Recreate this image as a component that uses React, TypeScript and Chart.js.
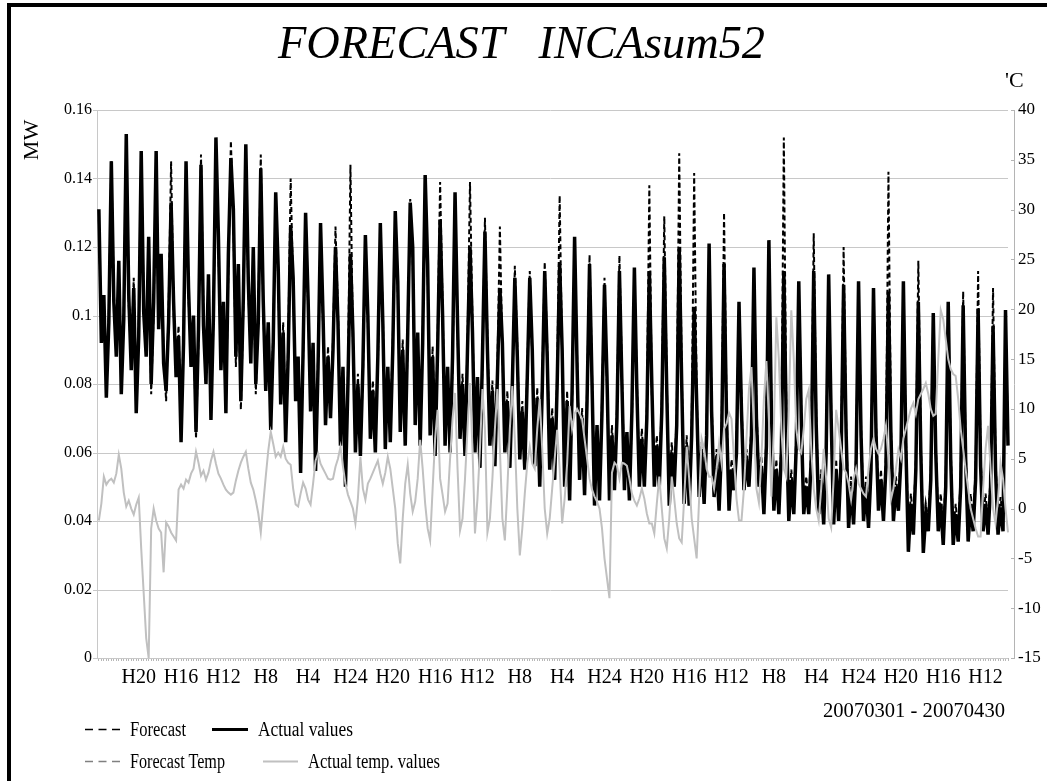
import React, { useEffect, useRef } from "react";
import { Chart, registerables } from "chart.js";

Chart.register(...registerables);

// ---- data (4-hour steps, 2007-03-01 .. 2007-04-30, 6 values per day: H4,H8,H12,H16,H20,H24) ----
const STEP_HOURS = 4;
const TOTAL_HOURS = 1464;
const LABEL_EVERY_HOURS = 68;

const xTickLabels = [
  "H20", "H16", "H12", "H8", "H4", "H24", "H20", "H16", "H12", "H8", "H4",
  "H24", "H20", "H16", "H12", "H8", "H4", "H24", "H20", "H16", "H12",
];

const actualLoad = [
  0.131, 0.092, 0.106, 0.076, 0.098, 0.145,
  0.104, 0.088, 0.116, 0.077, 0.099, 0.153,
  0.106, 0.084, 0.108, 0.0715, 0.094, 0.148,
  0.101, 0.088, 0.123, 0.08, 0.104, 0.148,
  0.096, 0.118, 0.086, 0.078, 0.098, 0.133,
  0.104, 0.082, 0.094, 0.063, 0.092, 0.145,
  0.108, 0.085, 0.1, 0.066, 0.096, 0.144,
  0.097, 0.08, 0.112, 0.0695, 0.1, 0.152,
  0.123, 0.084, 0.104, 0.0715, 0.118, 0.146,
  0.131, 0.088, 0.115, 0.075, 0.105, 0.15,
  0.11, 0.086, 0.12, 0.08, 0.098, 0.143,
  0.104, 0.078, 0.098, 0.0666, 0.092, 0.136,
  0.114, 0.074, 0.095, 0.063, 0.088, 0.126,
  0.111, 0.075, 0.088, 0.054, 0.09, 0.13,
  0.105, 0.072, 0.092, 0.0546, 0.085, 0.127,
  0.1, 0.068, 0.088, 0.07, 0.09, 0.12,
  0.098, 0.062, 0.085, 0.05, 0.08, 0.118,
  0.095, 0.06, 0.08, 0.059, 0.085, 0.1235,
  0.1, 0.064, 0.078, 0.06, 0.088, 0.127,
  0.098, 0.061, 0.085, 0.063, 0.09, 0.1305,
  0.11, 0.066, 0.09, 0.062, 0.095, 0.133,
  0.12, 0.068, 0.095, 0.062, 0.092, 0.141,
  0.115, 0.065, 0.088, 0.059, 0.09, 0.128,
  0.1, 0.062, 0.085, 0.06, 0.088, 0.136,
  0.098, 0.064, 0.08, 0.059, 0.09, 0.12,
  0.095, 0.06, 0.082, 0.0555, 0.088, 0.1245,
  0.09, 0.062, 0.078, 0.056, 0.082, 0.108,
  0.092, 0.06, 0.075, 0.0555, 0.08, 0.111,
  0.088, 0.058, 0.072, 0.055, 0.082, 0.111,
  0.09, 0.056, 0.076, 0.05, 0.078, 0.113,
  0.088, 0.055, 0.07, 0.052, 0.08, 0.115,
  0.09, 0.05, 0.075, 0.046, 0.078, 0.123,
  0.085, 0.052, 0.07, 0.0475, 0.075, 0.115,
  0.08, 0.0445, 0.068, 0.046, 0.072, 0.109,
  0.082, 0.046, 0.065, 0.049, 0.07, 0.113,
  0.08, 0.049, 0.066, 0.046, 0.072, 0.114,
  0.078, 0.05, 0.064, 0.05, 0.07, 0.113,
  0.08, 0.05, 0.062, 0.05, 0.072, 0.117,
  0.078, 0.0445, 0.06, 0.05, 0.068, 0.1194,
  0.08, 0.045, 0.062, 0.0445, 0.065, 0.1025,
  0.075, 0.047, 0.06, 0.045, 0.065, 0.121,
  0.072, 0.047, 0.058, 0.043, 0.062, 0.115,
  0.07, 0.043, 0.055, 0.049, 0.06, 0.104,
  0.072, 0.049, 0.058, 0.05, 0.065, 0.114,
  0.07, 0.05, 0.056, 0.042, 0.062, 0.122,
  0.072, 0.043, 0.055, 0.042, 0.06, 0.113,
  0.068, 0.04, 0.052, 0.042, 0.062, 0.11,
  0.07, 0.042, 0.05, 0.042, 0.058, 0.113,
  0.068, 0.042, 0.052, 0.039, 0.06, 0.112,
  0.07, 0.039, 0.055, 0.04, 0.058, 0.109,
  0.066, 0.038, 0.05, 0.039, 0.056, 0.11,
  0.065, 0.04, 0.05, 0.038, 0.055, 0.108,
  0.066, 0.043, 0.052, 0.04, 0.056, 0.107,
  0.065, 0.04, 0.05, 0.043, 0.058, 0.11,
  0.062, 0.031, 0.045, 0.036, 0.055, 0.104,
  0.06, 0.0307, 0.042, 0.037, 0.052, 0.1007,
  0.06, 0.037, 0.045, 0.033, 0.05, 0.104,
  0.058, 0.033, 0.042, 0.034, 0.05, 0.103,
  0.058, 0.034, 0.045, 0.037, 0.052, 0.102,
  0.056, 0.037, 0.045, 0.036, 0.05, 0.097,
  0.055, 0.036, 0.044, 0.037, 0.1016, 0.062,
];

const forecastLoad = [
  0.128, 0.095, 0.103, 0.079, 0.101, 0.145,
  0.107, 0.091, 0.112, 0.08, 0.102, 0.15,
  0.103, 0.087, 0.111, 0.074, 0.097, 0.147,
  0.104, 0.091, 0.119, 0.077, 0.101, 0.146,
  0.099, 0.114, 0.089, 0.075, 0.102, 0.145,
  0.101, 0.085, 0.097, 0.066, 0.095, 0.142,
  0.105, 0.088, 0.097, 0.064, 0.093, 0.147,
  0.1, 0.083, 0.108, 0.072, 0.098, 0.15,
  0.119, 0.087, 0.101, 0.074, 0.113, 0.151,
  0.127, 0.085, 0.111, 0.0725, 0.102, 0.148,
  0.107, 0.089, 0.117, 0.077, 0.101, 0.147,
  0.101, 0.081, 0.095, 0.069, 0.095, 0.134,
  0.11, 0.077, 0.098, 0.066, 0.091, 0.14,
  0.108, 0.078, 0.085, 0.058, 0.088, 0.128,
  0.102, 0.075, 0.089, 0.058, 0.088, 0.125,
  0.097, 0.071, 0.091, 0.072, 0.093, 0.126,
  0.101, 0.065, 0.082, 0.054, 0.083, 0.144,
  0.092, 0.063, 0.083, 0.062, 0.082, 0.12,
  0.097, 0.067, 0.081, 0.063, 0.085, 0.124,
  0.101, 0.064, 0.082, 0.066, 0.093, 0.128,
  0.107, 0.069, 0.093, 0.063, 0.092, 0.134,
  0.117, 0.071, 0.092, 0.065, 0.095, 0.138,
  0.112, 0.068, 0.091, 0.062, 0.093, 0.139,
  0.103, 0.065, 0.082, 0.063, 0.085, 0.133,
  0.095, 0.067, 0.083, 0.062, 0.093, 0.139,
  0.098, 0.063, 0.079, 0.058, 0.085, 0.1285,
  0.093, 0.065, 0.081, 0.059, 0.085, 0.126,
  0.089, 0.063, 0.078, 0.058, 0.077, 0.1145,
  0.091, 0.061, 0.075, 0.058, 0.085, 0.113,
  0.087, 0.059, 0.079, 0.053, 0.081, 0.1156,
  0.091, 0.058, 0.073, 0.055, 0.083, 0.135,
  0.087, 0.053, 0.078, 0.049, 0.075, 0.12,
  0.088, 0.055, 0.073, 0.05, 0.078, 0.1177,
  0.083, 0.047, 0.065, 0.049, 0.075, 0.111,
  0.079, 0.049, 0.068, 0.052, 0.073, 0.1175,
  0.083, 0.052, 0.063, 0.049, 0.069, 0.112,
  0.081, 0.053, 0.067, 0.053, 0.073, 0.138,
  0.077, 0.053, 0.065, 0.053, 0.075, 0.129,
  0.081, 0.047, 0.063, 0.053, 0.071, 0.1474,
  0.083, 0.048, 0.065, 0.047, 0.068, 0.1416,
  0.078, 0.05, 0.063, 0.048, 0.068, 0.118,
  0.075, 0.05, 0.061, 0.046, 0.065, 0.13,
  0.073, 0.046, 0.058, 0.052, 0.063, 0.102,
  0.075, 0.052, 0.061, 0.053, 0.068, 0.112,
  0.073, 0.053, 0.059, 0.045, 0.065, 0.119,
  0.075, 0.046, 0.058, 0.045, 0.063, 0.152,
  0.071, 0.043, 0.055, 0.045, 0.065, 0.108,
  0.073, 0.045, 0.053, 0.045, 0.061, 0.124,
  0.071, 0.045, 0.055, 0.042, 0.063, 0.11,
  0.073, 0.042, 0.058, 0.043, 0.061, 0.12,
  0.069, 0.041, 0.053, 0.042, 0.059, 0.108,
  0.068, 0.043, 0.053, 0.041, 0.058, 0.106,
  0.069, 0.046, 0.055, 0.043, 0.059, 0.142,
  0.068, 0.043, 0.053, 0.046, 0.061, 0.108,
  0.065, 0.036, 0.048, 0.04, 0.058, 0.116,
  0.063, 0.035, 0.045, 0.04, 0.055, 0.099,
  0.063, 0.04, 0.048, 0.037, 0.053, 0.102,
  0.061, 0.037, 0.045, 0.037, 0.053, 0.107,
  0.061, 0.037, 0.048, 0.04, 0.055, 0.113,
  0.059, 0.04, 0.048, 0.039, 0.053, 0.108,
  0.058, 0.039, 0.047, 0.04, 0.099, 0.065,
];

const actualTemp = [
  -1.2, 0.5, 3.2, 2.4, 2.8, 3.0,
  2.6, 3.5, 5.4, 4.0, 1.6, 0.2,
  0.8, 0.0, -0.6, 0.4, 1.1, -4.0,
  -8.5, -13.0, -15.0, -2.0, 0.0, -1.2,
  -2.0, -2.4, -6.4, -1.4, -1.8, -2.4,
  -2.8, -3.2, 1.9, 2.4, 2.0, 2.9,
  2.6, 3.5, 4.0, 5.7, 4.6, 3.3,
  3.8, 2.9, 3.6, 4.8, 5.7, 4.5,
  3.5, 3.0, 2.4, 1.9, 1.6, 1.4,
  1.6, 2.8, 3.8, 4.6, 5.2, 5.7,
  4.0, 2.6, 1.9, 0.8, -0.5, -2.4,
  0.5, 3.2, 5.8, 7.7, 6.5, 5.2,
  5.6, 5.2, 6.2, 5.0, 4.6, 4.4,
  2.0, 0.4, 0.2, 1.5, 2.6, 2.0,
  0.9, 0.4, 2.5, 4.8, 5.5, 4.5,
  4.0, 3.5, 3.0, 2.9, 3.0, 4.2,
  5.0, 6.2, 4.2, 2.5, 1.4, 0.7,
  0.0, -1.5, 1.0, 5.2, 2.0, 0.9,
  2.5, 3.0, 3.6, 4.2, 4.8, 3.5,
  2.5, 3.6, 5.2, 4.0, 2.0, 0.0,
  -3.5, -5.5, -1.0, 2.5, 4.4, 1.5,
  -0.3, 0.7, 3.0, 6.9, 4.0, 0.5,
  -2.0, -3.2, 2.0, 7.0, 9.9, 3.0,
  1.4, -0.3, 0.5, 5.0, 9.0, 11.6,
  4.0, -2.2, -1.0, 3.0, 8.0, 12.6,
  6.0, -2.5, 1.0, 6.0, 12.0, 8.0,
  -2.4, -1.0, 3.0, 8.0, 12.0, 6.0,
  -1.0, -3.2, 2.0, 8.0, 12.3, 7.0,
  0.0, -4.7, -2.0, 1.5, 4.5, 6.2,
  4.5, 4.0, 8.0, 11.0, 6.0, 0.0,
  -2.5, -1.0, 2.0, 5.0, 7.9, 4.0,
  -1.5, 1.0, 4.5, 10.3, 8.0, 9.5,
  10.0, 9.5, 9.0, 7.0, 5.0, 3.0,
  1.9, 1.2, 0.7, 0.0, -2.0, -5.0,
  -7.0, -9.0, 3.6, 4.6, 4.3, 3.0,
  4.6, 4.5, 4.3, 3.0, 1.5, 0.8,
  0.3, 1.0, 2.0, 1.0, -0.5, -1.5,
  -1.5, -2.5, 0.5, 3.2, 0.0, -3.0,
  -4.0, -1.0, 3.2, 1.0, -1.5, -3.0,
  -3.4, 1.0, 6.2, 3.0, -1.0, -3.0,
  -5.0, 1.0, 7.0, 6.0, 4.0, 3.2,
  3.2, 2.0, 4.0, 6.5, 4.6, 8.0,
  8.5, 9.6, 9.0, 5.0, 1.0, -1.2,
  -1.2, 2.0, 7.0, 12.0, 14.2, 8.0,
  2.0, 0.6, 5.0, 11.0, 14.8, 9.0,
  1.2, 8.0, 19.2, 15.0, 8.0, 4.0,
  3.2, 10.0, 19.9, 15.0, 8.0, 6.0,
  5.6, 8.0, 11.0, 11.9, 6.0, 2.0,
  0.0, -1.2, 2.0, 6.0, 3.0, -1.0,
  -1.9, 3.0, 9.9, 8.0, 6.0, 4.0,
  3.6, 2.5, 0.9, 3.0, 4.0, 2.5,
  2.0, 1.5, 1.2, 4.0, 6.0, 7.0,
  6.0, 5.5, 6.0, 7.0, 8.3, 5.0,
  0.9, 2.0, 4.0, 5.9, 5.0, 7.0,
  8.0, 9.0, 10.0, 10.6, 9.5, 11.0,
  11.5, 12.0, 12.6, 11.5, 10.0, 9.3,
  9.5, 15.0, 19.9, 19.0, 17.0, 15.0,
  14.0, 13.5, 13.3, 11.0, 8.0, 6.0,
  3.9, 2.0, 0.0, -1.0, -2.0, -2.8,
  -2.8, 2.0, 6.0, 8.3, 4.0, 0.0,
  -1.5, 1.0, 4.6, 3.0, 0.0, -2.4,
];

// no forecast temperature values are drawn in the period
const forecastTemp: number[] = [];

const FONT = "'Liberation Serif', 'Times New Roman', serif";

const toPoints = (arr: number[]) =>
  arr.map((v, i) => ({ x: (i + 1) * STEP_HOURS, y: v }));

const gridPlugin = {
  id: "customGrid",
  beforeDatasetsDraw(chart: any) {
    const { ctx, chartArea, scales } = chart;
    const xs = scales.x;
    const ys = scales.y;
    const y2 = scales.y2;
    const xEnd = xs.getPixelForValue(TOTAL_HOURS);
    ctx.save();
    ctx.lineWidth = 1;
    ctx.strokeStyle = "#c8c8c8";
    ys.ticks.forEach((t: any) => {
      const py = Math.round(ys.getPixelForValue(t.value)) + 0.5;
      ctx.beginPath();
      ctx.moveTo(chartArea.left - 4, py);
      ctx.lineTo(xEnd, py);
      ctx.stroke();
    });
    ctx.strokeStyle = "#b4b4b4";
    y2.ticks.forEach((t: any) => {
      const py = Math.round(y2.getPixelForValue(t.value)) + 0.5;
      ctx.beginPath();
      ctx.moveTo(chartArea.right - 3, py);
      ctx.lineTo(chartArea.right, py);
      ctx.stroke();
    });
    ctx.restore();
  },
};

function ChartCanvas() {
  const ref = useRef<HTMLCanvasElement | null>(null);
  useEffect(() => {
    if (!ref.current) return;
    const xMax = 1 + (TOTAL_HOURS - 1) * (917 / 911);
    const chart = new Chart(ref.current, {
      type: "line",
      data: {
        datasets: [
          {
            label: "Forecast",
            data: toPoints(forecastLoad),
            borderColor: "#000000",
            borderWidth: 2,
            borderDash: [5, 3],
            pointRadius: 0,
            yAxisID: "y",
            order: 4,
          },
          {
            label: "Actual values",
            data: toPoints(actualLoad),
            borderColor: "#000000",
            borderWidth: 3.5,
            pointRadius: 0,
            yAxisID: "y",
            order: 3,
          },
          {
            label: "Forecast Temp",
            data: toPoints(forecastTemp),
            borderColor: "#808080",
            borderWidth: 1.5,
            borderDash: [6, 4],
            pointRadius: 0,
            yAxisID: "y2",
            order: 2,
          },
          {
            label: "Actual temp. values",
            data: toPoints(actualTemp),
            borderColor: "#c0c0c0",
            borderWidth: 2,
            pointRadius: 0,
            yAxisID: "y2",
            order: 1,
          },
        ],
      },
      options: {
        animation: false,
        responsive: true,
        maintainAspectRatio: false,
        layout: { padding: { top: 110, left: 0, right: 0, bottom: 0 } },
        plugins: {
          legend: { display: false },
          tooltip: { enabled: false },
          title: { display: false },
        },
        scales: {
          x: {
            type: "linear",
            min: 1,
            max: xMax,
            afterFit: (s: any) => {
              s.height = 123;
            },
            afterBuildTicks: (s: any) => {
              const t: any[] = [];
              for (let h = STEP_HOURS; h <= TOTAL_HOURS; h += STEP_HOURS) t.push({ value: h });
              s.ticks = t;
            },
            ticks: {
              autoSkip: false,
              maxRotation: 0,
              minRotation: 0,
              color: "#000000",
              padding: 5,
              font: { family: FONT, size: 20 },
              callback: (v: any) => {
                const n = Number(v);
                if (n % LABEL_EVERY_HOURS === 0) {
                  return xTickLabels[n / LABEL_EVERY_HOURS - 1] ?? "";
                }
                return "";
              },
            },
            grid: {
              drawOnChartArea: false,
              drawTicks: true,
              tickLength: 3,
              color: "#b8b8b8",
            },
            border: { display: false },
          },
          y: {
            position: "left",
            min: 0,
            max: 0.16,
            afterFit: (s: any) => {
              s.width = 97;
            },
            ticks: {
              stepSize: 0.02,
              color: "#000000",
              padding: 5,
              font: { family: FONT, size: 16 },
              callback: (v: any) => String(Number(Number(v).toFixed(2))),
            },
            grid: { display: false, drawTicks: false },
            border: { display: true, color: "#c8c8c8", width: 1 },
          },
          y2: {
            position: "right",
            min: -15,
            max: 40,
            afterFit: (s: any) => {
              s.width = 33;
            },
            ticks: {
              stepSize: 5,
              color: "#000000",
              padding: 4,
              font: { family: FONT, size: 17 },
            },
            grid: { display: false, drawTicks: false },
            border: { display: true, color: "#b4b4b4", width: 1 },
          },
        },
      },
      plugins: [gridPlugin],
    } as any);
    return () => chart.destroy();
  }, []);
  return <canvas ref={ref} />;
}

export default function App() {
  const textStyle: React.CSSProperties = { fontFamily: FONT };
  return (
    <div
      style={{
        position: "fixed",
        left: 0,
        top: 0,
        width: 1047,
        height: 781,
        overflow: "hidden",
        background: "#ffffff",
      }}
    >
      <div
        style={{
          position: "absolute",
          left: 7,
          top: 3,
          width: 1200,
          height: 1000,
          border: "4px solid #000",
          boxSizing: "border-box",
        }}
      />
      <div style={{ position: "absolute", left: 0, top: 0, width: 1047, height: 781 }}>
        <ChartCanvas />
      </div>
      <svg
        width={1047}
        height={781}
        style={{ position: "absolute", left: 0, top: 0, pointerEvents: "none" }}
      >
        <text
          x={278}
          y={58}
          xmlSpace="preserve"
          style={{ ...textStyle, whiteSpace: "pre" }}
          fontStyle="italic"
          fontSize={46}
          textLength={487}
          lengthAdjust="spacingAndGlyphs"
          fill="#000"
        >
          {"FORECAST   INCAsum52"}
        </text>
        <text
          transform="translate(38,140) rotate(-90)"
          textAnchor="middle"
          style={textStyle}
          fontSize={22}
          fill="#000"
        >
          MW
        </text>
        <text x={1005} y={87} style={textStyle} fontSize={22} fill="#000">
          'C
        </text>
        <text
          x={823}
          y={717}
          style={textStyle}
          fontSize={22}
          textLength={182}
          lengthAdjust="spacingAndGlyphs"
          fill="#000"
        >
          20070301 - 20070430
        </text>
        {/* legend */}
        <line x1={85} y1={729.5} x2={120} y2={729.5} stroke="#000" strokeWidth={1.5} strokeDasharray="8 5.5" />
        <text x={130} y={736} style={textStyle} fontSize={20} textLength={56} lengthAdjust="spacingAndGlyphs" fill="#000">
          Forecast
        </text>
        <line x1={212} y1={729.5} x2={248} y2={729.5} stroke="#000" strokeWidth={3} />
        <text x={258} y={736} style={textStyle} fontSize={20} textLength={95} lengthAdjust="spacingAndGlyphs" fill="#000">
          Actual values
        </text>
        <line x1={85} y1={761.5} x2={120} y2={761.5} stroke="#808080" strokeWidth={1.5} strokeDasharray="8 5.5" />
        <text x={130} y={768} style={textStyle} fontSize={20} textLength={95} lengthAdjust="spacingAndGlyphs" fill="#000">
          Forecast Temp
        </text>
        <line x1={263} y1={761.5} x2={298} y2={761.5} stroke="#c0c0c0" strokeWidth={2} />
        <text x={308} y={768} style={textStyle} fontSize={20} textLength={132} lengthAdjust="spacingAndGlyphs" fill="#000">
          Actual temp. values
        </text>
      </svg>
    </div>
  );
}
